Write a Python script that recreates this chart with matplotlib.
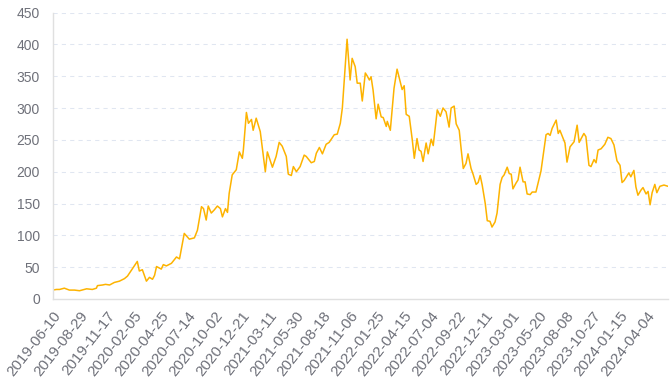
import numpy as np
import pandas as pd
import matplotlib
matplotlib.use("Agg")
import matplotlib.pyplot as plt

# 数据：距 2019-06-10 的天数 与 对应数值
start_date = "2019-06-10"
day_offsets = [
    0, 12, 21, 35, 50, 65, 80, 101, 118, 130,
    133, 148, 157, 169, 183, 198, 213, 222, 237, 251,
    257, 266, 278, 287, 296, 302, 308, 322, 328, 337,
    352, 367, 376, 390, 405, 420, 429, 441, 447, 455,
    461, 470, 479, 488, 497, 503, 512, 518, 523, 532,
    544, 553, 562, 565, 574, 580, 589, 594, 603, 615,
    630, 636, 651, 662, 671, 680, 692, 698, 707, 713,
    722, 733, 745, 751, 766, 775, 781, 790, 799, 810,
    819, 834, 843, 852, 858, 872, 881, 887, 896, 902,
    911, 917, 926, 932, 938, 943, 949, 958, 964, 973,
    979, 988, 991, 1000, 1011, 1020, 1035, 1041, 1047, 1056,
    1065, 1071, 1079, 1085, 1091, 1097, 1106, 1112, 1121, 1127,
    1139, 1148, 1156, 1165, 1174, 1180, 1189, 1195, 1204, 1210,
    1216, 1224, 1230, 1239, 1245, 1254, 1260, 1266, 1272, 1281,
    1287, 1295, 1301, 1310, 1316, 1325, 1331, 1337, 1346, 1352,
    1358, 1363, 1372, 1378, 1384, 1393, 1399, 1405, 1414, 1420,
    1431, 1440, 1446, 1461, 1467, 1473, 1479, 1491, 1497, 1502,
    1517, 1523, 1532, 1544, 1553, 1559, 1573, 1579, 1588, 1594,
    1603, 1609, 1615, 1624, 1635, 1644, 1653, 1662, 1671, 1680,
    1686, 1692, 1706, 1712, 1721, 1727, 1733, 1742, 1748, 1757,
    1763, 1769, 1775, 1783, 1789, 1798, 1810, 1822,
]
values = [
    14, 15, 15, 17, 14, 14, 13, 16, 15, 17,
    21, 22, 23, 22, 26, 28, 32, 36, 48, 59,
    44, 46, 28, 34, 31, 37, 51, 47, 54, 52,
    56, 66, 63, 103, 94, 96, 108, 145, 142, 124,
    146, 135, 140, 146, 142, 129, 142, 136, 166, 195,
    203, 231, 221, 234, 293, 276, 282, 265, 284, 263,
    200, 231, 207, 224, 246, 240, 224, 196, 194, 208,
    200, 208, 226, 224, 214, 216, 229, 238, 228, 243,
    246, 258, 259, 276, 300, 408, 344, 378, 365, 339,
    339, 311, 355, 350, 344, 349, 328, 283, 306, 286,
    285, 271, 279, 265, 331, 361, 329, 335, 290, 287,
    250, 221, 252, 234, 232, 216, 245, 228, 251, 241,
    297, 287, 300, 294, 270, 300, 303, 275, 265, 234,
    205, 213, 228, 205, 196, 180, 183, 194, 179, 150,
    123, 122, 113, 121, 135, 180, 191, 195, 207, 197,
    196, 173, 182, 187, 207, 184, 184, 165, 164, 168,
    168, 188, 201, 258, 260, 257, 268, 281, 260, 265,
    245, 215, 239, 247, 273, 246, 260, 255, 210, 208,
    219, 214, 234, 236, 243, 254, 252, 242, 217, 210,
    183, 186, 198, 192, 202, 176, 163, 171, 175, 165,
    169, 148, 167, 180, 167, 177, 179, 177,
]
tick_labels = [
    "2019-06-10", "2019-08-29", "2019-11-17", "2020-02-05", "2020-04-25",
    "2020-07-14", "2020-10-02", "2020-12-21", "2021-03-11", "2021-05-30",
    "2021-08-18", "2021-11-06", "2022-01-25", "2022-04-15", "2022-07-04",
    "2022-09-22", "2022-12-11", "2023-03-01", "2023-05-20", "2023-08-08",
    "2023-10-27", "2024-01-15", "2024-04-04",
]
y_ticks = [0, 50, 100, 150, 200, 250, 300, 350, 400, 450]

dates = pd.Timestamp(start_date) + pd.to_timedelta(day_offsets, unit="D")
tick_dates = pd.to_datetime(tick_labels)

plt.rcParams['font.family'] = ['Liberation Sans', 'DejaVu Sans']

fig = plt.figure(figsize=(6.7, 3.87), dpi=100)
ax = fig.add_axes([52.5 / 670, 1 - 299 / 387, (668 - 52.5) / 670, (299 - 12.5) / 387])

ax.plot(dates, values, color='#FDB300', linewidth=1.1)

ax.set_ylim(0, 450)
ax.set_xlim(dates[0], dates[-1])
ax.set_yticks(y_ticks)
ax.set_xticks(tick_dates)
ax.set_xticklabels(tick_labels, rotation=52, ha='right', va='top',
                   rotation_mode='anchor', fontsize=11)

ax.grid(axis='y', color='#E0E6F1', linestyle=(0, (4, 4)), linewidth=0.75)
ax.grid(axis='x', visible=False)
ax.set_axisbelow(True)

for side in ['top', 'right']:
    ax.spines[side].set_visible(False)
for side in ['left', 'bottom']:
    ax.spines[side].set_color('#E0E0E0')
    ax.spines[side].set_linewidth(1)

ax.tick_params(axis='both', length=0, colors='#6E7079')
ax.tick_params(axis='y', pad=9, labelsize=10)
ax.tick_params(axis='x', pad=7)

fig.savefig('out.png', dpi=100)
